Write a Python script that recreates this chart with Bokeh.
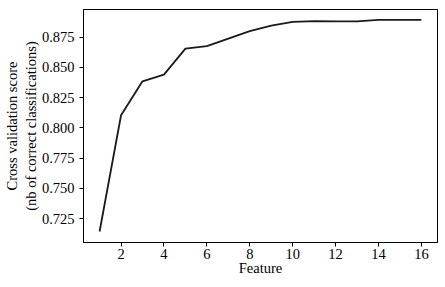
from bokeh.plotting import figure
from bokeh.models import Range1d, FixedTicker, CustomJSTickFormatter
from bokeh.embed import file_html
from bokeh.resources import INLINE

features = list(range(1, 17))
scores = [0.7145, 0.8105, 0.8385, 0.8440, 0.8655, 0.8675, 0.8738, 0.8800,
          0.8845, 0.8875, 0.8882, 0.8880, 0.8880, 0.8893, 0.8893, 0.8893]
x_ticks = [2, 4, 6, 8, 10, 12, 14, 16]
y_ticks = [0.725, 0.750, 0.775, 0.800, 0.825, 0.850, 0.875]
x_label = "Feature"
y_label = "Cross validation score\n(nb of correct classifications)"

p = figure(width=445, height=287, output_backend="svg", toolbar_location=None,
           x_range=Range1d(0.25, 16.75), y_range=Range1d(0.7054, 0.8978),
           min_border_left=80, min_border_right=8, min_border_top=9, min_border_bottom=45)

p.line(features, scores, line_color="#1a1a1a", line_width=1.8)

p.xgrid.visible = False
p.ygrid.visible = False
p.outline_line_color = "black"
p.outline_line_width = 1
p.background_fill_color = "white"
p.border_fill_color = "white"

font = "Liberation Serif"
for ax in (p.xaxis[0], p.yaxis[0]):
    ax.major_label_text_font = font
    ax.major_label_text_font_size = "14.5px"
    ax.major_label_text_color = "black"
    ax.axis_label_text_font = font
    ax.axis_label_text_font_size = "14.5px"
    ax.axis_label_text_font_style = "normal"
    ax.axis_label_text_color = "black"
    ax.minor_tick_line_color = None
    ax.major_tick_in = 0
    ax.major_tick_out = 4
    ax.major_tick_line_color = "black"
    ax.axis_line_color = "black"

p.xaxis.major_label_standoff = 2
p.xaxis.axis_label_standoff = -2
p.yaxis.major_label_standoff = 5
p.yaxis.axis_label_standoff = 0

p.xaxis.ticker = FixedTicker(ticks=x_ticks)
p.yaxis.ticker = FixedTicker(ticks=y_ticks)
p.yaxis.formatter = CustomJSTickFormatter(code="return tick.toFixed(3);")
p.xaxis.axis_label = x_label
p.yaxis.axis_label = y_label

open("out.html", "w").write(file_html(p, INLINE))
